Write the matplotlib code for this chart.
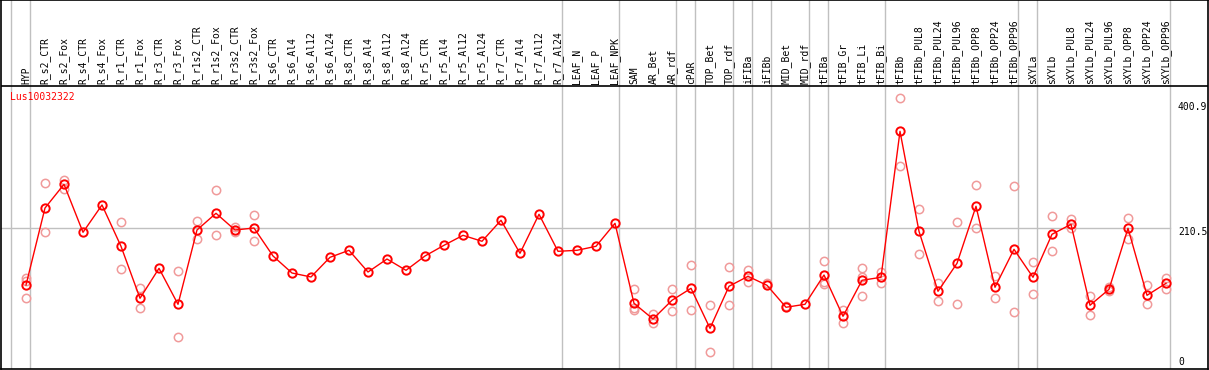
import matplotlib
matplotlib.use("Agg")
import matplotlib.pyplot as plt
import numpy as np

W, H = 1209, 370

gene = "Lus10032322"

samples = [
    "HYP", "R_s2_CTR", "R_s2_Fox", "R_s4_CTR", "R_s4_Fox", "R_r1_CTR", "R_r1_Fox",
    "R_r3_CTR", "R_r3_Fox", "R_r1s2_CTR", "R_r1s2_Fox", "R_r3s2_CTR", "R_r3s2_Fox",
    "R_s6_CTR", "R_s6_Al4", "R_s6_Al12", "R_s6_Al24", "R_s8_CTR", "R_s8_Al4",
    "R_s8_Al12", "R_s8_Al24", "R_r5_CTR", "R_r5_Al4", "R_r5_Al12", "R_r5_Al24",
    "R_r7_CTR", "R_r7_Al4", "R_r7_Al12", "R_r7_Al24", "LEAF_N", "LEAF_P", "LEAF_NPK",
    "SAM", "AR_Bet", "AR_rdf", "cPAR", "TOP_Bet", "TOP_rdf", "iFIBa", "iFIBb",
    "MID_Bet", "MID_rdf", "tFIBa", "tFIB_Gr", "tFIB_Li", "tFIB_Bi", "tFIBb",
    "tFIBb_PUL8", "tFIBb_PUL24", "tFIBb_PUL96", "tFIBb_OPP8", "tFIBb_OPP24",
    "tFIBb_OPP96", "sXYLa", "sXYLb", "sXYLb_PUL8", "sXYLb_PUL24", "sXYLb_PUL96",
    "sXYLb_OPP8", "sXYLb_OPP24", "sXYLb_OPP96",
]

means = [
    124.2, 240.9, 276.8, 204.1, 245.5, 182.9, 104.1, 149.5, 95.0, 207.6, 232.9,
    207.6, 210.6, 168.2, 142.4, 136.4, 166.2, 176.8, 143.9, 163.6, 146.5, 168.2,
    184.4, 199.5, 190.5, 222.3, 172.3, 231.4, 175.3, 176.8, 182.9, 217.7,
    96.5, 72.7, 101.1, 119.2, 58.6, 122.3, 137.4, 123.8, 90.5, 95.0, 139.4,
    76.8, 131.4, 135.9, 357.1, 205.6, 114.7, 157.1, 243.5, 120.8, 178.3, 135.9,
    201.1, 216.2, 93.5, 117.7, 210.2, 108.6, 126.8,
]

# individual replicates (empty where only the mean is visible)
replicates = [
    [135.3, 130.8, 104.1], [278.3, 204.1], [283.3, 269.7], [], [], [219.2, 148.0],
    [119.2, 88.9], [], [145.0, 45.0], [221.2, 194.4], [268.2, 199.5], [212.6, 205.0],
    [229.8, 190.5], [], [], [], [], [], [], [], [], [], [], [], [], [], [], [], [],
    [], [], [], [117.7, 88.9, 86.4], [80.3, 66.2], [117.7, 84.4], [154.1, 85.9],
    [93.5, 22.3], [151.1, 93.5], [146.5, 128.3], [126.8], [92.4], [],
    [160.2, 125.3, 129.2], [86.4, 67.1], [149.5, 136.8, 107.1], [143.9, 126.8],
    [407.1, 305.0], [238.9, 171.2], [127.7, 100.0], [219.2, 95.0], [275.3, 210.2],
    [137.4, 104.1], [273.8, 82.9], [158.6, 110.2], [228.3, 175.3], [224.7, 210.2],
    [107.1, 78.3], [120.8, 114.7], [225.3, 193.5], [123.8, 95.0], [134.4, 118.6],
]

# index of the last sample in each group (separator lines)
group_ends = [-1, 0, 28, 31, 34, 35, 37, 38, 39, 41, 42, 45, 52, 53, 60]

y_ticks = [400.9, 210.5, 0]

RED = "#ff0000"
PINK = "#f09a9a"
GRID = "#c0c0c0"


def px(x0, y_top, x1, y_bot):
    return [x0 / W, 1 - y_bot / H, (x1 - x0) / W, (y_bot - y_top) / H]


fig = plt.figure(figsize=(W / 100, H / 100), dpi=100)
fig.patch.set_facecolor("white")

# axes covering the whole picture; data y scale fits the lower plot band
ax = fig.add_axes(px(1, 0, 1208, 369))
x_left = (1 - 26) / 19
x_right = (1208 - 26) / 19
ax.set_xlim(x_left, x_right)
scale = 0.66  # px per unit
y_low = (367 - 369) / scale
y_high = (367 - 0) / scale
ax.set_ylim(y_low, y_high)
for s in ax.spines.values():
    s.set_color("black")
    s.set_linewidth(1.2)
ax.set_xticks([])
ax.set_yticks([])

sep_val = (367 - 86) / scale
ax.axhline(sep_val, color="black", lw=1.2, zorder=3)

for e in group_ends:
    ax.axvline(e + 0.22, color=GRID, lw=1, zorder=1)

x_grid_end = group_ends[-1] + 0.22
ax.plot([x_left, x_grid_end], [y_ticks[1], y_ticks[1]], color=GRID, lw=1, zorder=1)

x = np.arange(len(samples))
for i, reps in enumerate(replicates):
    if reps:
        ax.plot([i] * len(reps), reps, linestyle="none", marker="o", ms=6,
                mfc="none", mec=PINK, mew=1.1, zorder=2)

ax.plot(x, means, color=RED, lw=1, marker="o", ms=6, mfc="none", mec=RED,
        mew=1.4, zorder=4)

label_base = (367 - 84) / scale
for i, name in enumerate(samples):
    ax.text(i, label_base, name, rotation=90, ha="center", va="bottom",
            fontsize=7, family="DejaVu Sans Mono", color="black")

ax.text(x_left + 9 / 19, (367 - 97) / scale, gene, color=RED, fontsize=7,
        family="DejaVu Sans Mono", ha="left", va="center")

tick_x = x_left + (1178 - 1) / 19
tick_pos = {400.9: 107, 210.5: 232, 0: 362}
for t in y_ticks:
    lab = "0" if t == 0 else f"{t:.1f}"
    ax.text(tick_x, (367 - tick_pos[t]) / scale, lab, fontsize=7,
            family="DejaVu Sans Mono", ha="left", va="center", color="black")

fig.savefig("out.png", dpi=100, facecolor="white")
